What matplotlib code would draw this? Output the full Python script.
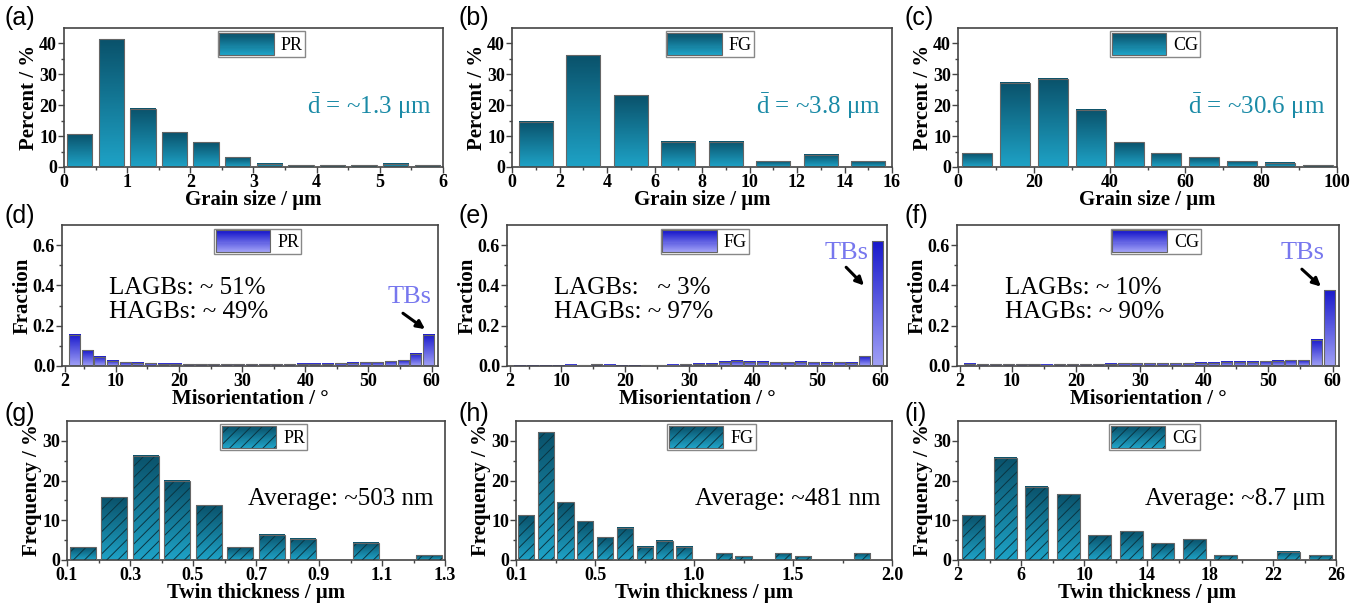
import numpy as np
import matplotlib
matplotlib.use("Agg")
import matplotlib.pyplot as plt
from matplotlib.colors import LinearSegmentedColormap
from matplotlib.legend_handler import HandlerBase
from matplotlib.patches import Rectangle, Patch
from matplotlib.ticker import FixedLocator

plt.rcParams["font.family"] = ["Liberation Serif", "DejaVu Serif"]
plt.rcParams["mathtext.fontset"] = "custom"
plt.rcParams["mathtext.rm"] = "Liberation Serif"
plt.rcParams["hatch.linewidth"] = 0.7

W, H = 1362, 606

# ---- 数据 ----
pr_grain_x = [0.25, 0.75, 1.25, 1.75, 2.25, 2.75, 3.25, 3.75, 4.25, 4.75, 5.25, 5.75]
pr_grain = [10.6, 41.4, 18.9, 11.3, 8.0, 3.2, 1.1, 0.5, 0.5, 0.5, 1.1, 0.5]
fg_grain_x = [1, 3, 5, 7, 9, 11, 13, 15]
fg_grain = [14.7, 36.2, 23.3, 8.2, 8.2, 1.8, 4.0, 1.8]
cg_grain_x = [5, 15, 25, 35, 45, 55, 65, 75, 85, 95]
cg_grain = [4.5, 27.2, 28.6, 18.5, 8.0, 4.5, 3.2, 1.8, 1.3, 0.6]

mis_x = [3.5 + 2 * i for i in range(29)]
pr_mis = [0.155, 0.077, 0.045, 0.027, 0.018, 0.016, 0.013, 0.011, 0.010, 0.009,
          0.009, 0.008, 0.008, 0.008, 0.008, 0.008, 0.008, 0.009, 0.010, 0.010,
          0.011, 0.013, 0.015, 0.018, 0.018, 0.023, 0.028, 0.062, 0.155]
fg_mis = [0.001, 0.001, 0.001, 0.001, 0.005, 0.003, 0.008, 0.006, 0.002, 0.002,
          0.004, 0.004, 0.005, 0.008, 0.012, 0.010, 0.022, 0.027, 0.022, 0.020,
          0.018, 0.018, 0.022, 0.018, 0.015, 0.018, 0.015, 0.048, 0.620]
cg_mis = [0.010, 0.008, 0.009, 0.009, 0.008, 0.008, 0.007, 0.008, 0.008, 0.008,
          0.008, 0.010, 0.014, 0.014, 0.014, 0.014, 0.013, 0.014, 0.016, 0.016,
          0.022, 0.020, 0.020, 0.024, 0.026, 0.028, 0.028, 0.130, 0.375]

pr_twin_x = [0.15, 0.25, 0.35, 0.45, 0.55, 0.65, 0.75, 0.85, 0.95, 1.05, 1.15, 1.25]
pr_twin = [3.25, 15.8, 26.3, 20.0, 13.75, 3.25, 6.4, 5.4, 0, 4.3, 0, 1.2]
fg_twin_x = [0.15, 0.25, 0.35, 0.45, 0.55, 0.65, 0.75, 0.85, 0.95, 1.05, 1.15, 1.25,
             1.35, 1.45, 1.55, 1.65, 1.75, 1.85]
fg_twin = [11.25, 32.2, 14.6, 9.75, 5.75, 8.1, 3.3, 4.8, 3.3, 0, 1.7, 1.0,
           0, 1.7, 1.0, 0, 0, 1.7]
cg_twin_x = [3, 5, 7, 9, 11, 13, 15, 17, 19, 21, 23, 25]
cg_twin = [11.3, 25.7, 18.5, 16.5, 6.25, 7.25, 4.2, 5.25, 1.2, 0, 2.1, 1.2]

grain_d = ["~1.3 μm", "~3.8 μm", "~30.6 μm"]
lagb = ["LAGBs: ~ 51%", "LAGBs:   ~ 3%", "LAGBs: ~ 10%"]
hagb = ["HAGBs: ~ 49%", "HAGBs: ~ 97%", "HAGBs: ~ 90%"]
twin_avg = ["Average: ~503 nm", "Average: ~481 nm", "Average: ~8.7 μm"]
names = ["PR", "FG", "CG"]

TEAL = LinearSegmentedColormap.from_list("teal", ["#1ea2c6", "#0a526b"])
BLUE = LinearSegmentedColormap.from_list("blue", ["#a0a0f6", "#1a1acc"])
HATCH_C = "#0a3542"
SPINE = "#444444"


class GradHandler(HandlerBase):
    """图例色块：竖向渐变 + 可选斜纹"""
    def __init__(self, cmap, hatch=None):
        super().__init__()
        self.cmap = cmap
        self.hatch = hatch

    def create_artists(self, legend, orig_handle, xdescent, ydescent,
                       width, height, fontsize, trans):
        n = 20
        arts = []
        for i in range(n):
            arts.append(Rectangle((-xdescent, -ydescent + i * height / n), width,
                                  height / n * 1.1, facecolor=self.cmap(i / (n - 1)),
                                  edgecolor="none", transform=trans))
        if self.hatch:
            arts.append(Rectangle((-xdescent, -ydescent), width, height, facecolor="none",
                                  edgecolor=HATCH_C, lw=0, hatch=self.hatch, transform=trans))
        arts.append(Rectangle((-xdescent, -ydescent), width, height, facecolor="none",
                              edgecolor="#666", lw=0.8, transform=trans))
        return arts


def grad_bars(ax, xs, ys, width, cmap, hatch=None):
    grad = np.linspace(0, 1, 64).reshape(-1, 1)
    xs2 = [x for x, y in zip(xs, ys) if y > 0]
    ys2 = [y for y in ys if y > 0]
    for x, y in zip(xs2, ys2):
        ax.imshow(grad, cmap=cmap, extent=(x - width / 2, x + width / 2, 0, y),
                  origin="lower", aspect="auto", zorder=2, interpolation="bilinear")
    if hatch:
        ax.bar(xs2, ys2, width, facecolor="none", edgecolor=HATCH_C, lw=0,
               hatch=hatch, zorder=3)
    ax.bar(xs2, ys2, width, facecolor="none", edgecolor="#666", lw=0.8, zorder=4)


def style(ax, xlim, ylim, xmaj, xmin, ymaj, ymin, xlabel, ylabel, xfmt=None, yfmt=None):
    ax.set_xlim(*xlim)
    ax.set_ylim(*ylim)
    ax.xaxis.set_major_locator(FixedLocator(xmaj))
    ax.xaxis.set_minor_locator(FixedLocator(xmin))
    ax.yaxis.set_major_locator(FixedLocator(ymaj))
    ax.yaxis.set_minor_locator(FixedLocator(ymin))
    if xfmt:
        ax.set_xticklabels(xfmt)
    if yfmt:
        ax.set_yticklabels(yfmt)
    for s in ax.spines.values():
        s.set_color(SPINE)
        s.set_linewidth(1.2)
    ax.tick_params(which="both", direction="out", color=SPINE, width=1,
                   labelsize=13, pad=1)
    ax.tick_params(which="major", length=4)
    ax.tick_params(which="minor", length=2.5)
    for lab in ax.get_xticklabels() + ax.get_yticklabels():
        lab.set_fontweight("bold")
    ax.set_xlabel(xlabel, fontsize=15, fontweight="bold", labelpad=-1)
    ax.set_ylabel(ylabel, fontsize=15, fontweight="bold", labelpad=0)


def legend(ax, name, cmap, hatch=None):
    proxy = Patch()
    lg = ax.legend(handles=[proxy], labels=[name], handler_map={proxy: GradHandler(cmap, hatch)},
                   loc="upper center", bbox_to_anchor=(0.52, 0.975), fancybox=False,
                   edgecolor="#888", framealpha=1, handlelength=3.0, handleheight=1.5,
                   borderpad=0.1, handletextpad=0.4, borderaxespad=0, fontsize=13)
    lg.get_frame().set_linewidth(1.0)


def add_ax(fig, l, r, t, b):
    return fig.add_axes([l / W, 1 - b / H, (r - l) / W, (b - t) / H])


fig = plt.figure(figsize=(W / 100, H / 100), dpi=100)

rows = [
    (28, 167, [(64, 443), (512, 892), (958, 1337)]),
    (225, 366, [(62, 438), (507, 887), (957, 1339)]),
    (421, 560, [(67, 445), (516, 892), (958, 1336)]),
]
labels = [["(a)", "(b)", "(c)"], ["(d)", "(e)", "(f)"], ["(g)", "(h)", "(i)"]]
label_pos = [[(4, 6), (458, 6), (904, 6)], [(4, 204), (458, 204), (904, 204)],
             [(4, 402), (458, 402), (904, 402)]]

# ---- 第一行：晶粒尺寸 ----
grain_sets = [(pr_grain_x, pr_grain, 0.4, (0, 6), [0, 1, 2, 3, 4, 5, 6], [0.5, 1.5, 2.5, 3.5, 4.5, 5.5]),
              (fg_grain_x, fg_grain, 1.44, (0, 16), list(range(0, 17, 2)), list(range(1, 16, 2))),
              (cg_grain_x, cg_grain, 7.9, (0, 100), list(range(0, 101, 20)), list(range(10, 100, 20)))]
t, b, cols = rows[0]
for j, (xs, ys, w, xl, xmaj, xmin) in enumerate(grain_sets):
    ax = add_ax(fig, cols[j][0], cols[j][1], t, b)
    grad_bars(ax, xs, ys, w, TEAL)
    style(ax, xl, (0, 45), xmaj, xmin, [0, 10, 20, 30, 40], [5, 15, 25, 35],
          "Grain size / μm", "Percent / %")
    legend(ax, names[j], TEAL)
    ax.text(0.97, 0.44, r"$\bar{\mathrm{d}}$ = " + grain_d[j], transform=ax.transAxes,
            ha="right", va="center", fontsize=18, color="#1a8aa6")

# ---- 第二行：取向差 ----
mis_sets = [pr_mis, fg_mis, cg_mis]
tb_pos = [((56.5, 0.345), (55.1, 0.27), (59.3, 0.175)),
          ((54.7, 0.56), (54.3, 0.50), (57.7, 0.39)),
          ((55.4, 0.56), (54.9, 0.49), (58.5, 0.385))]
t, b, cols = rows[1]
for j, ys in enumerate(mis_sets):
    ax = add_ax(fig, cols[j][0], cols[j][1], t, b)
    grad_bars(ax, mis_x, ys, 1.75, BLUE)
    style(ax, (1.5, 61), (0, 0.7), [2, 10, 20, 30, 40, 50, 60], [5, 15, 25, 35, 45, 55],
          [0.0, 0.2, 0.4, 0.6], [0.1, 0.3, 0.5], "Misorientation / °", "Fraction",
          yfmt=["0.0", "0.2", "0.4", "0.6"])
    legend(ax, names[j], BLUE)
    ax.text(0.125, 0.555, lagb[j], transform=ax.transAxes, ha="left", va="center", fontsize=18)
    ax.text(0.125, 0.385, hagb[j], transform=ax.transAxes, ha="left", va="center", fontsize=18)
    tp, a0, a1 = tb_pos[j]
    ax.text(tp[0], tp[1], "TBs", ha="center", va="center", fontsize=19, color="#7777ee")
    ax.annotate("", xy=a1, xytext=a0,
                arrowprops=dict(arrowstyle="-|>", color="black", lw=2.2, mutation_scale=12))

# ---- 第三行：孪晶厚度 ----
twin_sets = [(pr_twin_x, pr_twin, 0.082, (0.1, 1.3), [0.1, 0.3, 0.5, 0.7, 0.9, 1.1, 1.3],
              [0.2, 0.4, 0.6, 0.8, 1.0, 1.2], ["0.1", "0.3", "0.5", "0.7", "0.9", "1.1", "1.3"]),
             (fg_twin_x, fg_twin, 0.082, (0.1, 2.0), [0.1, 0.5, 1.0, 1.5, 2.0],
              [0.3, 0.75, 1.25, 1.75], ["0.1", "0.5", "1.0", "1.5", "2.0"]),
             (cg_twin_x, cg_twin, 1.44, (2, 26), [2, 6, 10, 14, 18, 22, 26],
              [4, 8, 12, 16, 20, 24], None)]
t, b, cols = rows[2]
for j, (xs, ys, w, xl, xmaj, xmin, fmt) in enumerate(twin_sets):
    ax = add_ax(fig, cols[j][0], cols[j][1], t, b)
    grad_bars(ax, xs, ys, w, TEAL, hatch="///")
    style(ax, xl, (0, 35), xmaj, xmin, [0, 10, 20, 30], [5, 15, 25],
          "Twin thickness / μm", "Frequency / %", xfmt=fmt)
    legend(ax, names[j], TEAL, hatch="///")
    ax.text(0.97, 0.44, twin_avg[j], transform=ax.transAxes, ha="right", va="center",
            fontsize=18)

for i in range(3):
    for j in range(3):
        x, y = label_pos[i][j]
        fig.text(x / W, 1 - y / H, labels[i][j], ha="left", va="top", fontsize=18,
                 family="Liberation Sans")

fig.savefig("out.png", dpi=100, facecolor="white")
